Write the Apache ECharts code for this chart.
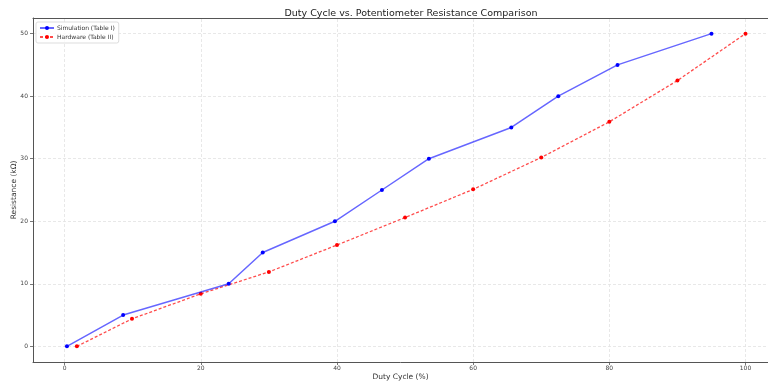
<!DOCTYPE html>
<html>
<head>
<meta charset="utf-8">
<script src="https://cdn.jsdelivr.net/npm/echarts@6/dist/echarts.min.js"></script>
<style>html,body{margin:0;padding:0;background:#fff}#c{width:768px;height:383px}</style>
</head>
<body>
<div id="c"></div>
<script>
const simDuty = [0.34, 8.6, 24.1, 29.1, 39.7, 46.6, 53.5, 65.6, 72.5, 81.2, 95.0];
const simRes  = [0, 5, 10, 15, 20, 25, 30, 35, 40, 45, 50];
const hwDuty  = [1.8, 9.9, 20.0, 30.0, 40.0, 50.0, 60.0, 70.0, 80.0, 90.0, 100.0];
const hwRes   = [0, 4.4, 8.4, 11.9, 16.2, 20.6, 25.1, 30.2, 35.9, 42.5, 50];
const xTicks = [0, 20, 40, 60, 80, 100];
const yTicks = [0, 10, 20, 30, 40, 50];

const simData = simDuty.map((d, i) => [d, simRes[i]]);
const hwData = hwDuty.map((d, i) => [d, hwRes[i]]);

const font = 'DejaVu Sans';
const frame = {show: true, onZero: false, lineStyle: {color: '#555', width: 1}};
const gridLine = {color: '#e2e2e2', width: 0.8, type: [3, 2]};

const gridMarks = xTicks.map(v => ({xAxis: v})).concat(yTicks.map(v => ({yAxis: v})));

const chart = echarts.init(document.getElementById('c'), null, {renderer: 'canvas'});
chart.setOption({
  backgroundColor: '#fff',
  animation: false,
  title: {
    text: 'Duty Cycle vs. Potentiometer Resistance Comparison',
    left: 406, top: 4, textAlign: 'center',
    textStyle: {fontFamily: font, fontSize: 9.5, fontWeight: 'normal', color: '#222'}
  },
  legend: {
    left: 36, top: 22, orient: 'vertical',
    itemWidth: 14, itemHeight: 5, itemGap: 3,
    padding: [3, 4, 3, 3],
    borderColor: '#ddd', borderWidth: 1, borderRadius: 2,
    backgroundColor: 'rgba(255,255,255,0.8)',
    textStyle: {fontFamily: font, fontSize: 6, color: '#333', padding: [0, 0, 0, -2]},
    data: ['Simulation (Table I)', 'Hardware (Table II)']
  },
  grid: {left: 33, right: 0, top: 18, bottom: 21, containLabel: false, outerBoundsMode: 'none'},
  xAxis: [{
    type: 'value', min: -4.64, max: 103.3,
    name: 'Duty Cycle (%)', nameLocation: 'middle', nameGap: 11, nameMoveOverlap: false,
    nameTextStyle: {fontFamily: font, fontSize: 7.5, color: '#333'},
    axisLine: frame,
    axisTick: {show: true, length: 3, inside: false, lineStyle: {color: '#555', width: 0.8}, customValues: xTicks},
    axisLabel: {fontFamily: font, fontSize: 6, color: '#444', margin: 3, customValues: xTicks},
    splitLine: {show: false}
  }, {
    type: 'value', position: 'top', min: -4.64, max: 103.3,
    axisLine: frame, axisTick: {show: false}, axisLabel: {show: false}, splitLine: {show: false}
  }],
  yAxis: [{
    type: 'value', min: -2.5, max: 52.5,
    name: 'Resistance (kΩ)', nameLocation: 'middle', nameGap: 15, nameMoveOverlap: false,
    nameTextStyle: {fontFamily: font, fontSize: 7.5, color: '#333'},
    axisLine: frame,
    axisTick: {show: true, length: 3, lineStyle: {color: '#555', width: 0.8}, customValues: yTicks},
    axisLabel: {fontFamily: font, fontSize: 6, color: '#444', margin: 5, customValues: yTicks},
    splitLine: {show: false}
  }],
  series: [{
    name: 'Simulation (Table I)', type: 'line', data: simData,
    symbol: 'circle', symbolSize: 4,
    itemStyle: {color: '#0000ff'},
    lineStyle: {color: 'rgba(0,0,255,0.6)', width: 1.5},
    markLine: {
      silent: true, symbol: 'none', label: {show: false},
      lineStyle: gridLine, emphasis: {disabled: true},
      data: gridMarks, z: 0
    },
    z: 3
  }, {
    name: 'Hardware (Table II)', type: 'line', data: hwData,
    symbol: 'circle', symbolSize: 4,
    itemStyle: {color: '#ff0000'},
    lineStyle: {color: 'rgba(255,0,0,0.7)', width: 1.3, type: [3, 2]},
    z: 2
  }]
});
</script>
</body>
</html>
